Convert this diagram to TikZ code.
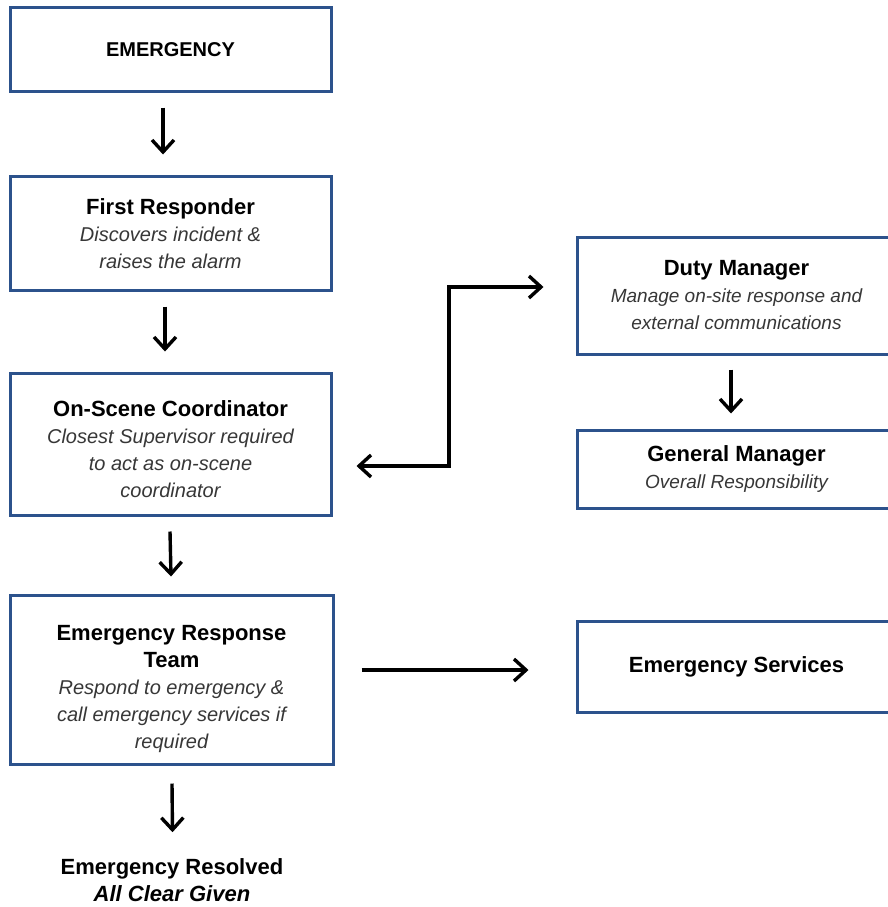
\documentclass[tikz,border=0pt]{standalone}
\usepackage{fontspec}
\setmainfont{Liberation Sans}
\usetikzlibrary{arrows.meta}
\definecolor{boxblue}{RGB}{44,82,140}
\definecolor{subgray}{RGB}{55,55,55}
\tikzset{
  box/.style={draw=boxblue, line width=3pt, rectangle, inner sep=0pt},
  boxtext/.style={align=center, inner sep=0pt, font=\fontsize{20}{27}\selectfont},
  boxtextr/.style={align=center, inner sep=0pt, font=\fontsize{19}{27}\selectfont},
  tip/.style={},
  arr/.style={line width=3.4pt, -{Straight Barb[length=12pt,width=22pt,line width=3.4pt]}},
  dblarr/.style={line width=3.4pt, {Straight Barb[length=12pt,width=22pt,line width=3.4pt]}-{Straight Barb[length=12pt,width=22pt,line width=3.4pt]}}
}
\newcommand{\ttlb}[1]{{\fontsize{22}{27}\selectfont\bfseries #1}}
\newcommand{\subi}[1]{{\color{subgray}\itshape #1}}
\begin{document}
\begin{tikzpicture}[x=1pt,y=-1pt]
\useasboundingbox[fill=white] (0,0) rectangle (888,907);

% left column boxes
\node[box, minimum width=321pt, minimum height=83pt] (emg) at (170.5,49.5) {};
\node[boxtext] (emgT) at (emg.center) {{\fontsize{20}{24}\selectfont\bfseries EMERGENCY}};

\node[box, minimum width=321pt, minimum height=114pt] (fr) at (170.5,233) {};
\node[boxtext] (frT) at ([yshift=-0.5pt]fr.center)
  {\ttlb{First Responder}\\ \subi{Discovers incident \&}\\ \subi{raises the alarm}};

\node[box, minimum width=321pt, minimum height=142pt] (osc) at (170.5,444) {};
\node[boxtext] (oscT) at ([yshift=-5pt]osc.center)
  {\ttlb{On-Scene Coordinator}\\ \subi{Closest Supervisor required}\\ \subi{to act as on-scene}\\ \subi{coordinator}};

\node[box, minimum width=323pt, minimum height=169pt] (ert) at (171.5,679.5) {};
\node[boxtext] (ertT) at ([yshift=-9pt]ert.center)
  {\ttlb{Emergency Response}\\ \ttlb{Team}\\ \subi{Respond to emergency \&}\\ \subi{call emergency services if}\\ \subi{required}};

\node[align=center, inner sep=0pt, font=\fontsize{22}{27}\selectfont\bfseries] (res) at (172,880)
  {Emergency Resolved\\ \itshape All Clear Given};

% right column boxes (they run past the right edge)
\node[box, minimum width=323pt, minimum height=117pt] (dm) at (738.5,295.5) {};
\node[boxtextr] (dmT) at ([xshift=-2pt]dm.center)
  {\ttlb{Duty Manager}\\ \subi{Manage on-site response and}\\ \subi{external communications}};

\node[box, minimum width=323pt, minimum height=78pt] (gm) at (738.5,469) {};
\node[boxtextr] (gmT) at ([xshift=-2pt]gm.center)
  {\ttlb{General Manager}\\ \subi{Overall Responsibility}};

\node[box, minimum width=323pt, minimum height=91pt] (es) at (738.5,666.5) {};
\node[boxtextr] (esT) at ([xshift=-2pt]es.center) {\ttlb{Emergency Services}};

% vertical flow arrows
\draw[arr] ([xshift=-7.5pt,yshift=-15pt]emg.south) -- ([xshift=-7.5pt,yshift=20pt]fr.north);
\draw[arr] ([xshift=-5.5pt,yshift=-15pt]fr.south) -- ([xshift=-5.5pt,yshift=20pt]osc.north);
\draw[arr] ([xshift=-0.5pt,yshift=-15pt]osc.south) -- ([xshift=-0.5pt,yshift=17pt]ert.north);
\draw[arr] ([xshift=0.5pt,yshift=-18pt]ert.south) -- ([xshift=0.5pt,yshift=26pt]res.north);
\draw[arr] ([xshift=-7.5pt,yshift=-14pt]dm.south) -- ([xshift=-7.5pt,yshift=15pt]gm.north);

% horizontal links
\coordinate (elbow) at (449,466);
\draw[dblarr] ([xshift=24pt,yshift=-22pt]osc.east) -- (elbow) |- ([xshift=-32pt,yshift=8.5pt]dm.west);
\draw[arr] ([xshift=27pt,yshift=9.5pt]ert.east) -- ([xshift=-47pt,yshift=-3.5pt]es.west);
\end{tikzpicture}
\end{document}
